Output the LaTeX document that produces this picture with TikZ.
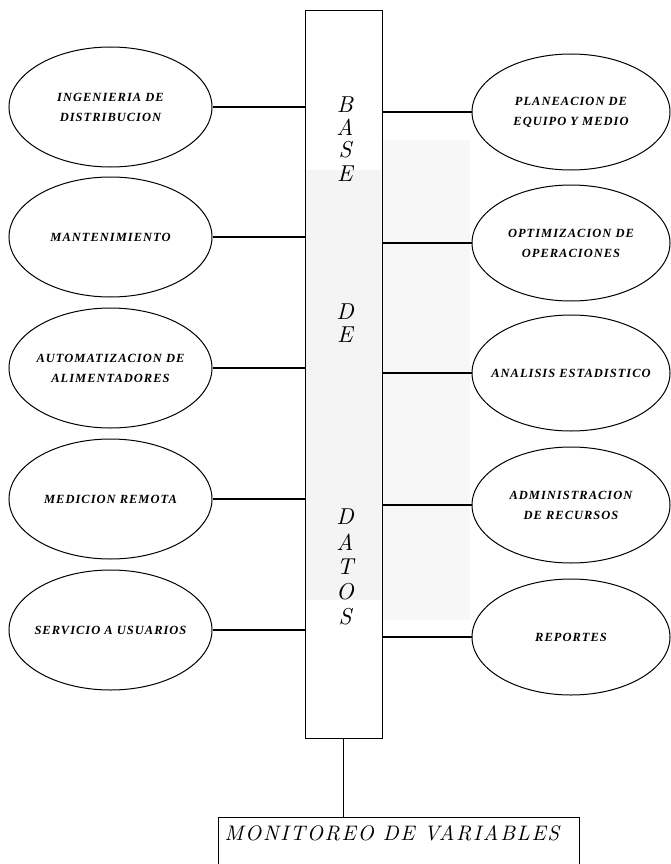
\documentclass[tikz,border=0pt]{standalone}
\usepackage{fontspec}
\usetikzlibrary{shapes.geometric}
\newfontfamily\ellfont[LetterSpace=8]{Liberation Serif Bold Italic}
\newfontfamily\colfont{lmroman10-italic.otf}
\newfontfamily\monfont[LetterSpace=8]{lmroman10-italic.otf}
\begin{document}
\begin{tikzpicture}[x=1pt,y=-1pt,line width=1pt,
  ell/.style={draw,ellipse,inner xsep=-30pt,inner ysep=0pt,align=center,font=\ellfont\fontsize{12.5}{20}\selectfont},
  lell/.style={ell,minimum width=203,minimum height=120},
  rell/.style={ell,minimum width=198,minimum height=116},
  colletter/.style={inner sep=0pt,font=\colfont\fontsize{23}{23}\selectfont},
  link/.style={line width=1.1pt}]
\useasboundingbox (0,0) rectangle (671,864);
\clip (0,0) rectangle (671,864);
% faint stipple of the scan
\fill[gray!9] (306,170) rectangle (381,600);
\fill[gray!6] (383,140) rectangle (470,620);
% central column
\node[draw,minimum width=77,minimum height=727,inner sep=0pt] (base) at (343.5,374.5) {};
\node[colletter] (b1) at (345,105) {B};
\node[colletter] (b2) at (345,127) {A};
\node[colletter] (b3) at (345,150) {S};
\node[colletter] (b4) at (345,174) {E};
\node[colletter] (d1) at (345,312) {D};
\node[colletter] (d2) at (345,335) {E};
\node[colletter] (t1) at (345,517) {D};
\node[colletter] (t2) at (345,542) {A};
\node[colletter] (t3) at (345,567) {T};
\node[colletter] (t4) at (345,592) {O};
\node[colletter] (t5) at (345,617) {S};
% left ellipses
\node[lell] (L1) at (110.5,107) {INGENIERIA DE\\DISTRIBUCION};
\node[lell] (L2) at (110.5,237) {MANTENIMIENTO};
\node[lell] (L3) at (110.5,368) {AUTOMATIZACION DE\\ALIMENTADORES};
\node[lell] (L4) at (110.5,499) {MEDICION REMOTA};
\node[lell] (L5) at (110.5,630) {SERVICIO A USUARIOS};
% right ellipses
\node[rell] (R1) at (571,112) {PLANEACION DE\\EQUIPO Y MEDIO};
\node[rell] (R2) at (571,243) {OPTIMIZACION DE\\OPERACIONES};
\node[rell] (R3) at (571,373) {ANALISIS ESTADISTICO};
\node[rell] (R4) at (571,505) {ADMINISTRACION\\DE RECURSOS};
\node[rell] (R5) at (571,637) {REPORTES};
% connectors
\foreach \n in {L1,L2,L3,L4,L5}{\draw[link] (\n.east) -- (\n.east -| base.west);}
\foreach \n in {R1,R2,R3,R4,R5}{\draw[link] (\n.west -| base.east) -- (\n.west);}
% bottom box
\node[draw,minimum width=361,minimum height=70,inner sep=0pt,anchor=north] (mon) at (398.5,817) {};
\node[inner sep=0pt,font=\monfont\fontsize{21}{21}\selectfont] (montxt) at (392,833) {MONITOREO DE VARIABLES};
\draw[link] (base.south) -- (base.south |- mon.north);
\end{tikzpicture}
\end{document}
